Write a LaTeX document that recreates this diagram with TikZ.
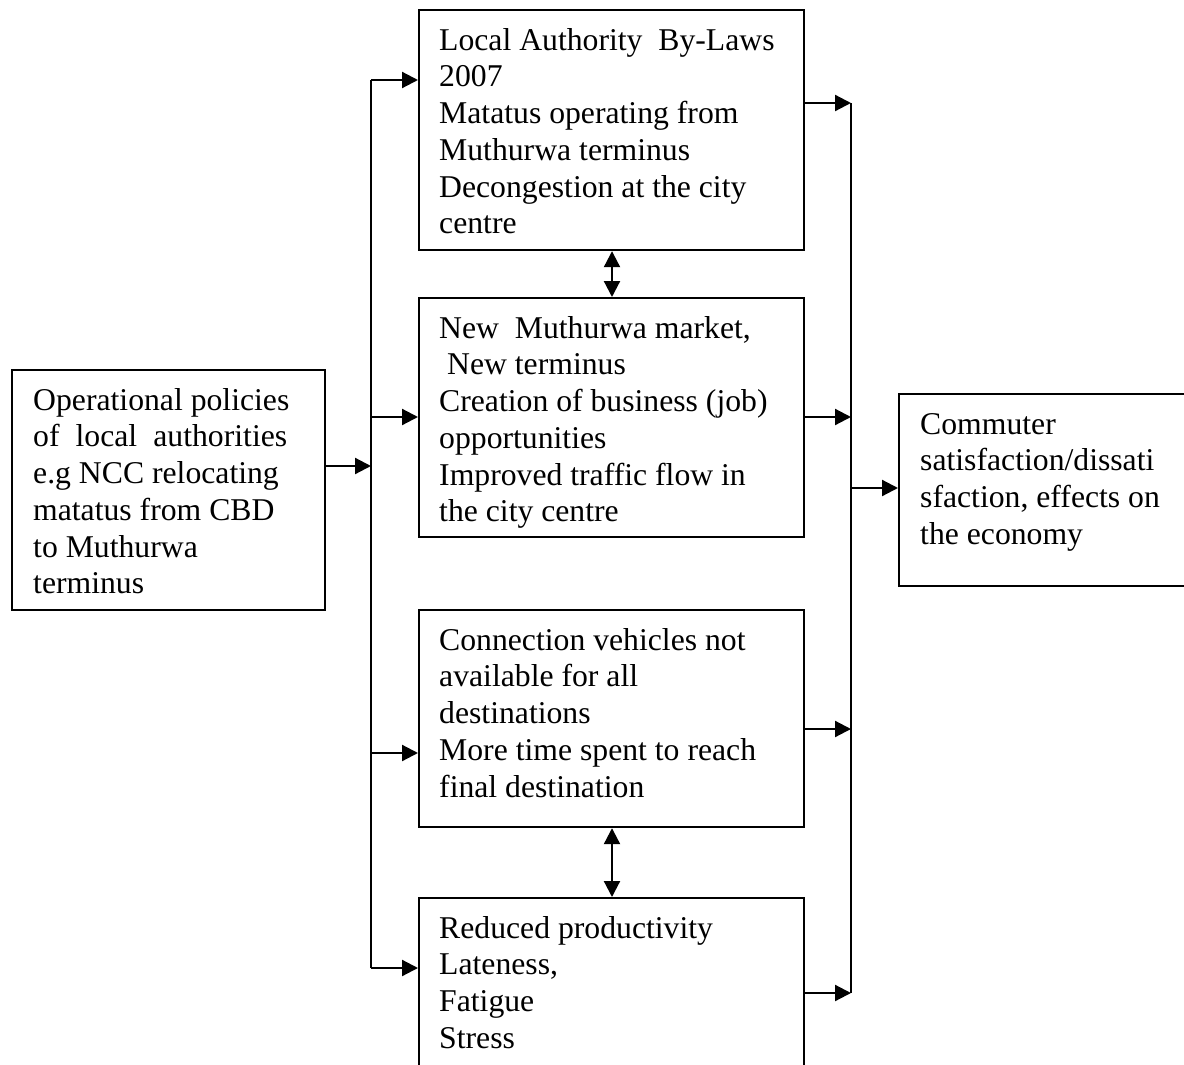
\documentclass[tikz,border=0pt]{standalone}
\usepackage{fontspec}
\setmainfont{Liberation Serif}
\usetikzlibrary{arrows.meta}
\tikzset{
  box/.style={draw=black, line width=2.2pt, anchor=north west, inner sep=0pt},
  txt/.style={anchor=north west, inner sep=0pt, align=left, font=\fontsize{31.7}{36.7}\selectfont},
  conn/.style={line width=2.2pt},
  arr/.style={line width=2.2pt, -{Triangle[length=16pt,width=16pt]}},
  arrtwo/.style={line width=2.2pt, {Triangle[length=16pt,width=16pt]}-{Triangle[length=16pt,width=16pt]}}
}
\newcommand{\fl}{\rule{0pt}{41pt}}
\begin{document}
\begin{tikzpicture}[x=1pt,y=-1pt]
\useasboundingbox (0,0) rectangle (1184,1065);
\fill[white] (0,0) rectangle (1184,1065);
\clip (0,0) rectangle (1184,1065);

% boxes
\node[box, minimum width=313pt, minimum height=240pt] (src) at (11,369) {};
\node[box, minimum width=385pt, minimum height=240pt] (b1) at (418,9) {};
\node[box, minimum width=385pt, minimum height=239pt] (b2) at (418,297) {};
\node[box, minimum width=385pt, minimum height=217pt] (b3) at (418,609) {};
\node[box, minimum width=385pt, minimum height=240pt] (b4) at (418,897) {};
\node[box, minimum width=320pt, minimum height=192pt] (dst) at (898,393) {};

% texts
\node[txt] (tsrc) at ([xshift=22pt]src.north west) {\fl Operational policies\\ \makebox[254pt][s]{of local authorities}\\ e.g NCC relocating\\ matatus from CBD\\ to Muthurwa\\ terminus};
\node[txt] (t1) at ([xshift=21pt]b1.north west) {\fl Local Authority~~By-Laws\\ 2007\\ Matatus operating from\\ Muthurwa terminus\\ Decongestion at the city\\ centre};
\node[txt] (t2) at ([xshift=21pt]b2.north west) {\fl New~~Muthurwa market,\\ ~New terminus\\ Creation of business (job)\\ opportunities\\ Improved traffic flow in\\ the city centre};
\node[txt] (t3) at ([xshift=21pt]b3.north west) {\fl Connection vehicles not\\ available for all\\ destinations\\ More time spent to reach\\ final destination};
\node[txt] (t4) at ([xshift=21pt]b4.north west) {\fl Reduced productivity\\ Lateness,\\ Fatigue\\ Stress};
\node[txt] (tdst) at ([xshift=22pt]dst.north west) {\fl Commuter\\ satisfaction/dissati\\ sfaction, effects on\\ the economy};

% bus coordinates
\coordinate (lin) at (371,466);
\coordinate (l1) at (371,80);
\coordinate (l2) at (371,417);
\coordinate (l3) at (371,753);
\coordinate (l4) at (371,968);
\coordinate (r1) at (851,103);
\coordinate (r2) at (851,417);
\coordinate (r3) at (851,729);
\coordinate (r4) at (851,993);
\coordinate (rout) at (851,488);
\coordinate (mid) at (612,0);

% left bus
\draw[conn] (l1) -- (l4);
\draw[arr] (src.east |- lin) -- (lin);
\draw[arr] (l1) -- (l1 -| b1.west);
\draw[arr] (l2) -- (l2 -| b2.west);
\draw[arr] (l3) -- (l3 -| b3.west);
\draw[arr] (l4) -- (l4 -| b4.west);

% right bus
\draw[conn] (r1) -- (r4);
\draw[arr] (b1.east |- r1) -- (r1);
\draw[arr] (b2.east |- r2) -- (r2);
\draw[arr] (b3.east |- r3) -- (r3);
\draw[arr] (b4.east |- r4) -- (r4);
\draw[arr] (rout) -- (rout -| dst.west);

% double arrows
\draw[arrtwo] (b1.south -| mid) -- (b2.north -| mid);
\draw[arrtwo] (b3.south -| mid) -- (b4.north -| mid);
\end{tikzpicture}
\end{document}
